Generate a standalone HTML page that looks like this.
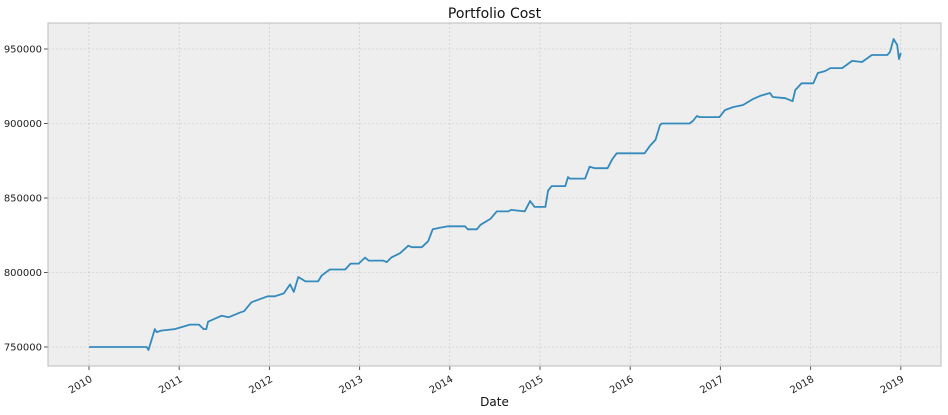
<!DOCTYPE html>
<html><head><meta charset="utf-8"><style>
body{margin:0;background:#fff;}
svg{display:block;font-family:"DejaVu Sans","Liberation Sans",sans-serif;}
</style></head><body>
<svg id="chart" width="948" height="415"></svg>
<script>
const xTickYears = [2010,2011,2012,2013,2014,2015,2016,2017,2018,2019];
const yTicks = [750000,800000,850000,900000,950000];
const dates = [2010.0,2010.64,2010.66,2010.68,2010.71,2010.73,2010.75,2010.8,2010.95,2011.12,2011.14,2011.22,2011.27,2011.3,2011.32,2011.47,2011.55,2011.67,2011.72,2011.8,2011.98,2012.06,2012.16,2012.23,2012.27,2012.32,2012.4,2012.54,2012.58,2012.67,2012.84,2012.9,2012.99,2013.06,2013.1,2013.26,2013.3,2013.35,2013.45,2013.54,2013.58,2013.69,2013.76,2013.81,2013.89,2013.98,2014.17,2014.2,2014.3,2014.34,2014.45,2014.52,2014.65,2014.68,2014.83,2014.89,2014.94,2015.06,2015.09,2015.13,2015.28,2015.31,2015.33,2015.5,2015.55,2015.61,2015.75,2015.8,2015.85,2016.16,2016.22,2016.28,2016.33,2016.35,2016.66,2016.7,2016.74,2016.77,2016.99,2017.05,2017.14,2017.25,2017.36,2017.44,2017.55,2017.58,2017.72,2017.8,2017.83,2017.9,2018.03,2018.08,2018.16,2018.22,2018.35,2018.46,2018.57,2018.68,2018.85,2018.88,2018.92,2018.96,2018.98,2019.0];
const values = [750000,750000,748000,752000,758000,762000,760000,761000,762000,765000,765000,765000,762000,762000,767000,771000,770000,773000,774000,780000,784000,784000,786000,792000,787000,797000,794000,794000,798000,802000,802000,806000,806000,810000,808000,808000,807000,810000,813000,818000,817000,817000,821000,829000,830000,831000,831000,829000,829000,832000,836000,841000,841000,842000,841000,848000,844000,844000,855000,858000,858000,864000,863000,863000,871000,870000,870000,876000,880000,880000,885000,889000,899000,900000,900000,902000,905000,904300,904300,909000,911000,912400,916400,918500,920500,917800,917000,915000,922500,927000,927000,933900,935200,937200,937200,942000,941300,946000,946000,948000,956700,952700,943300,947300];

const NS="http://www.w3.org/2000/svg";
const svg=document.getElementById('chart');
const L=48,R=941,T=23,B=366;
const xs=y=>89+(y-2010)*90.2;
const ys=v=>347-(v-750000)/50000*74.5;
function mk(tag,attrs,parent){const e=document.createElementNS(NS,tag);for(const k in attrs)e.setAttribute(k,attrs[k]);(parent||svg).appendChild(e);return e;}

const bg=mk('rect',{x:L,y:T,width:R-L,height:B-T,fill:'#eeeeee'});



xTickYears.forEach(yr=>{
  const x=xs(yr);
  const g=mk('line',{x1:x,x2:x,y1:T,y2:B,stroke:'#c4c4c4','stroke-width':0.6,'stroke-dasharray':'2,2'});
  
  
  mk('line',{x1:x,x2:x,y1:B,y2:B+4,stroke:'#555','stroke-width':1});
  const t=mk('text',{x:x+4,y:B+15,'font-size':10,fill:'#222','text-anchor':'end',transform:`rotate(-30 ${x+4} ${B+15})`});
  t.textContent=yr;
  
  
});
yTicks.forEach(v=>{
  const y=ys(v);
  const g=mk('line',{x1:L,x2:R,y1:y,y2:y,stroke:'#c4c4c4','stroke-width':0.6,'stroke-dasharray':'2,2'});
  
  
  mk('line',{x1:L-4,x2:L,y1:y,y2:y,stroke:'#555','stroke-width':1});
  const t=mk('text',{x:L-6,y:y+3.5,'font-size':10,fill:'#222','text-anchor':'end'});
  t.textContent=v;
  
  
});

const frame=mk('rect',{x:L,y:T,width:R-L,height:B-T,fill:'none',stroke:'#bcbcbc','stroke-width':1});



let d='';
dates.forEach((dt,i)=>{d+=(i?'L':'M')+xs(dt).toFixed(1)+','+ys(values[i]).toFixed(1);});
const line=mk('path',{d:d,fill:'none',stroke:'#348ABD','stroke-width':1.8,'stroke-linejoin':'round'});



const title=mk('text',{x:(L+R)/2,y:18,'font-size':14,fill:'#111','text-anchor':'middle'});
title.textContent='Portfolio Cost';



const xl=mk('text',{x:(L+R)/2,y:406,'font-size':12,fill:'#111','text-anchor':'middle'});
xl.textContent='Date';


</script>
</body></html>
